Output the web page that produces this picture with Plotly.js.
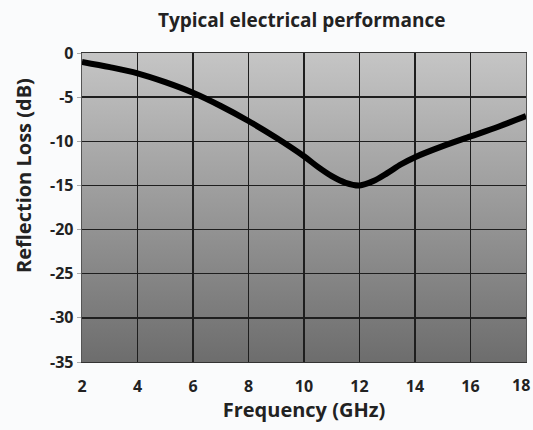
<!DOCTYPE html>
<html>
<head>
<meta charset="utf-8">
<script src="https://cdn.plot.ly/plotly-3.0.1.min.js"></script>
<style>html,body{margin:0;padding:0;background:#fafbfc;}#chart{width:533px;height:430px;}</style>
</head>
<body>
<div id="chart"></div>
<script>
// Data
const frequencyGHz = [2, 3, 4, 5, 6, 7, 8, 9, 10, 10.5, 11, 11.5, 12, 12.5, 13, 13.5, 14, 15, 16, 17, 18];
const reflectionLossDb = [-1.0, -1.6, -2.3, -3.3, -4.5, -6.0, -7.7, -9.6, -11.7, -12.9, -13.95, -14.7, -15.0, -14.5, -13.6, -12.6, -11.8, -10.55, -9.45, -8.35, -7.15];
const xTicks = [2, 4, 6, 8, 10, 12, 14, 16, 18];
const yTicks = [0, -5, -10, -15, -20, -25, -30, -35];

const chartTitle = 'Typical electrical performance';
const xTitle = 'Frequency (GHz)';
const yTitle = 'Reflection Loss (dB)';

const FONT = '"Open Sans", "Noto Sans", sans-serif';
const lastTick = xTicks[xTicks.length - 1];

const gradSvg = "<svg xmlns='http://www.w3.org/2000/svg' width='10' height='100' preserveAspectRatio='none' viewBox='0 0 10 100'>" +
  "<defs><linearGradient id='g' x1='0' y1='0' x2='0' y2='1'>" +
  "<stop offset='0' stop-color='#c5c5c5'/><stop offset='1' stop-color='#6d6d6d'/></linearGradient></defs>" +
  "<rect width='10' height='100' fill='url(#g)'/></svg>";
const gradSrc = 'data:image/svg+xml;charset=utf-8,' + encodeURIComponent(gradSvg);

const trace = {
  x: frequencyGHz,
  y: reflectionLossDb,
  type: 'scatter',
  mode: 'lines',
  line: {color: '#000000', width: 6, shape: 'spline', smoothing: 0.9},
  hoverinfo: 'skip',
  showlegend: false
};

const tickFont = {family: FONT, size: 16, weight: 700, color: '#222222'};

const layout = {
  width: 533,
  height: 430,
  margin: {l: 82, r: 7, t: 53, b: 68},
  paper_bgcolor: '#fafbfc',
  plot_bgcolor: 'rgba(0,0,0,0)',
  font: {family: FONT, color: '#222222'},
  title: {
    text: chartTitle,
    font: {family: FONT, size: 19, weight: 700, color: '#222222'},
    x: 0.566, xanchor: 'center', y: 0.952, yanchor: 'middle'
  },
  xaxis: {
    range: [2, 18],
    tickvals: xTicks,
    // the last label is drawn as an annotation so it stays inside the page edge
    ticktext: xTicks.map(v => v === lastTick ? '' : String(v)),
    showgrid: true,
    gridcolor: '#1e1e1e',
    gridwidth: 1.3,
    zeroline: false,
    showline: true,
    linecolor: '#333333',
    linewidth: 1.3,
    mirror: true,
    ticks: '',
    ticklabelstandoff: 9,
    tickfont: tickFont,
    title: {text: xTitle, font: {family: FONT, size: 20, weight: 700, color: '#222222'}, standoff: 6}
  },
  yaxis: {
    range: [-35, 0],
    tickvals: yTicks,
    ticktext: yTicks.map(String),
    showgrid: true,
    gridcolor: '#1e1e1e',
    gridwidth: 1.3,
    zeroline: false,
    showline: true,
    linecolor: '#555555',
    linewidth: 1.3,
    mirror: true,
    ticks: 'outside',
    ticklen: 4,
    tickcolor: '#aaaaaa',
    tickwidth: 1,
    tickfont: tickFont
  },
  images: [{
    source: gradSrc,
    xref: 'x', yref: 'y',
    x: 2, y: 0, sizex: 16, sizey: 35,
    xanchor: 'left', yanchor: 'top',
    sizing: 'stretch', layer: 'below'
  }],
  annotations: [{
    text: yTitle,
    xref: 'paper', yref: 'paper',
    x: -0.133, y: 0.605,
    xanchor: 'center', yanchor: 'middle',
    textangle: -90,
    showarrow: false,
    font: {family: FONT, size: 20, weight: 700, color: '#222222'}
  }, {
    text: String(lastTick),
    xref: 'x', yref: 'paper',
    x: lastTick, y: -0.0745,
    xanchor: 'right', yanchor: 'middle',
    xshift: 6,
    showarrow: false,
    font: tickFont
  }]
};

Plotly.newPlot('chart', [trace], layout, {displayModeBar: false, staticPlot: true});
</script>
</body>
</html>
